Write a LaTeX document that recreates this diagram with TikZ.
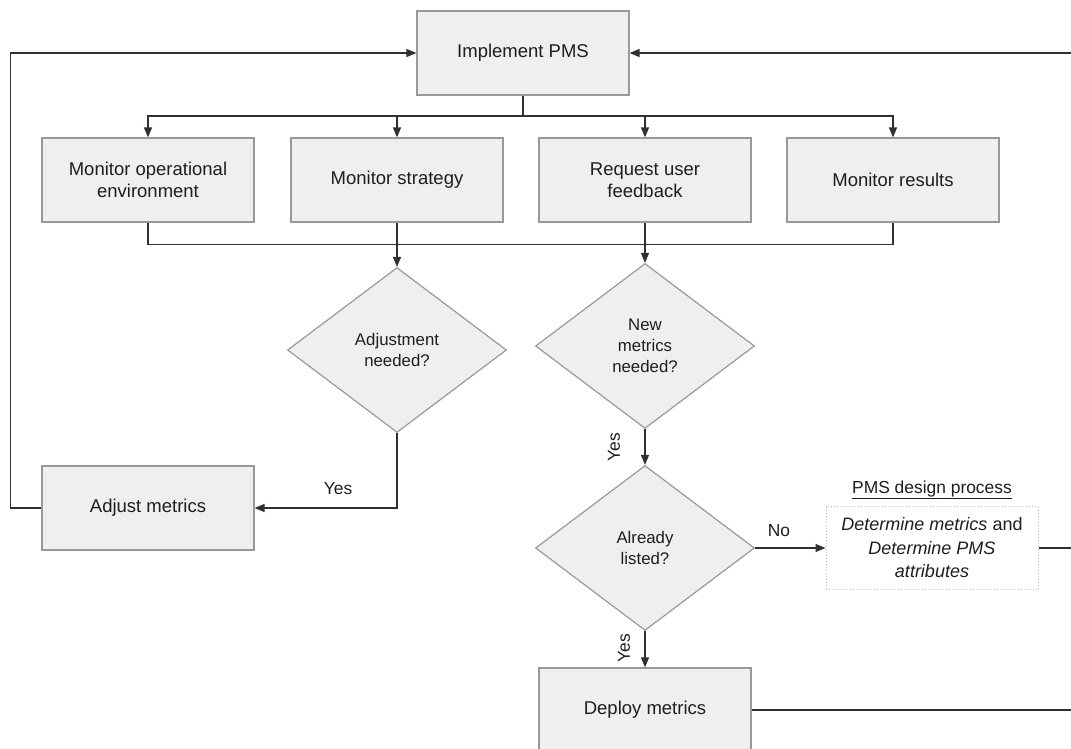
\documentclass[tikz,border=0pt]{standalone}
\usepackage{fontspec}
\setmainfont{Liberation Sans}
\usetikzlibrary{shapes.geometric,arrows.meta}
\definecolor{boxfill}{HTML}{EFEFEF}
\definecolor{boxline}{HTML}{999999}
\definecolor{lineclr}{HTML}{303030}
\definecolor{txt}{HTML}{1E1E1E}
\definecolor{dotclr}{HTML}{BBBBBB}
\begin{document}
\begin{tikzpicture}[x=1pt,y=-1pt,
  box/.style={draw=boxline, fill=boxfill, line width=1.2pt, minimum width=212pt,
    minimum height=84pt, align=center, inner sep=0pt, text=txt,
    font=\fontsize{18.5}{22}\selectfont},
  dec/.style={diamond, draw=boxline, fill=boxfill, line width=1.2pt,
    minimum width=219pt, minimum height=165pt, aspect=1.33, align=center,
    inner sep=0pt, text=txt, font=\fontsize{16.8}{21}\selectfont},
  conn/.style={draw=lineclr, line width=1.3pt},
  arr/.style={conn, -{Triangle[length=10pt,width=8pt]}},
  lbl/.style={text=txt, font=\fontsize{17.4}{20}\selectfont, inner sep=1pt}]
\useasboundingbox (0,0) rectangle (1071,749);

% process boxes
\node[box] (impl) at (523,53) {Implement PMS};
\node[box] (env) at (148,180) {Monitor operational\\environment};
\node[box] (strat) at (397,180) {Monitor strategy};
\node[box] (feed) at (645,180) {Request user\\feedback};
\node[box] (res) at (893,180) {Monitor results};
\node[box] (adjm) at (148,508) {Adjust metrics};
\node[box] (deploy) at (645,710) {Deploy metrics};

% decisions
\node[dec] (adj) at (397,350) {Adjustment\\needed?};
\node[dec] (new) at (645,346) {New\\metrics\\needed?};
\node[dec] (listed) at (645,548) {Already\\listed?};

% external design process
\node[draw=dotclr, dotted, line width=1pt, minimum width=212pt, minimum height=83pt,
  align=center, inner sep=0pt, text=txt, font=\fontsize{18}{23.5}\selectfont]
  (design) at (932,548) {\textit{Determine metrics} and\\\textit{Determine PMS}\\\textit{attributes}};
\node[lbl, anchor=south] (dlabel) at (932,500) {\underline{PMS design process}};

% off-page ends
\coordinate (rtop) at (1071,53);
\coordinate (rdes) at (1071,548);
\coordinate (rdep) at (1071,710);
\coordinate (split) at (523,116);

% fan-out from Implement PMS
\draw[conn] (impl.south) -- (split);
\draw[arr] (split) -| (env.north);
\draw[arr] (split) -| (strat.north);
\draw[arr] (split) -| (feed.north);
\draw[arr] (split) -| (res.north);

% collecting bar
\draw[conn] (env.south) -- ++(0,22) -| (res.south);
\draw[arr] (strat.south) -- (adj.north);
\draw[arr] (feed.south) -- (new.north);

% decisions
\draw[arr] (adj.south) |- (adjm.east);
\node[lbl] (yes1) at (338,489) {Yes};
\draw[arr] (new.south) -- (listed.north);
\node[lbl, rotate=90] (yes2) at (614,447) {Yes};
\draw[arr] (listed.east) -- (design.west);
\node[lbl] (no1) at (779,531) {No};
\draw[arr] (listed.south) -- (deploy.north);
\node[lbl, rotate=90] (yes3) at (624,648) {Yes};

% feedback loops
\draw[arr] (adjm.west) -- ++(-31,0) |- (impl.west);
\draw[arr] (rtop) -- (impl.east);
\draw[conn] (design.east) -- (rdes);
\draw[conn] (deploy.east) -- (rdep);
\end{tikzpicture}
\end{document}
